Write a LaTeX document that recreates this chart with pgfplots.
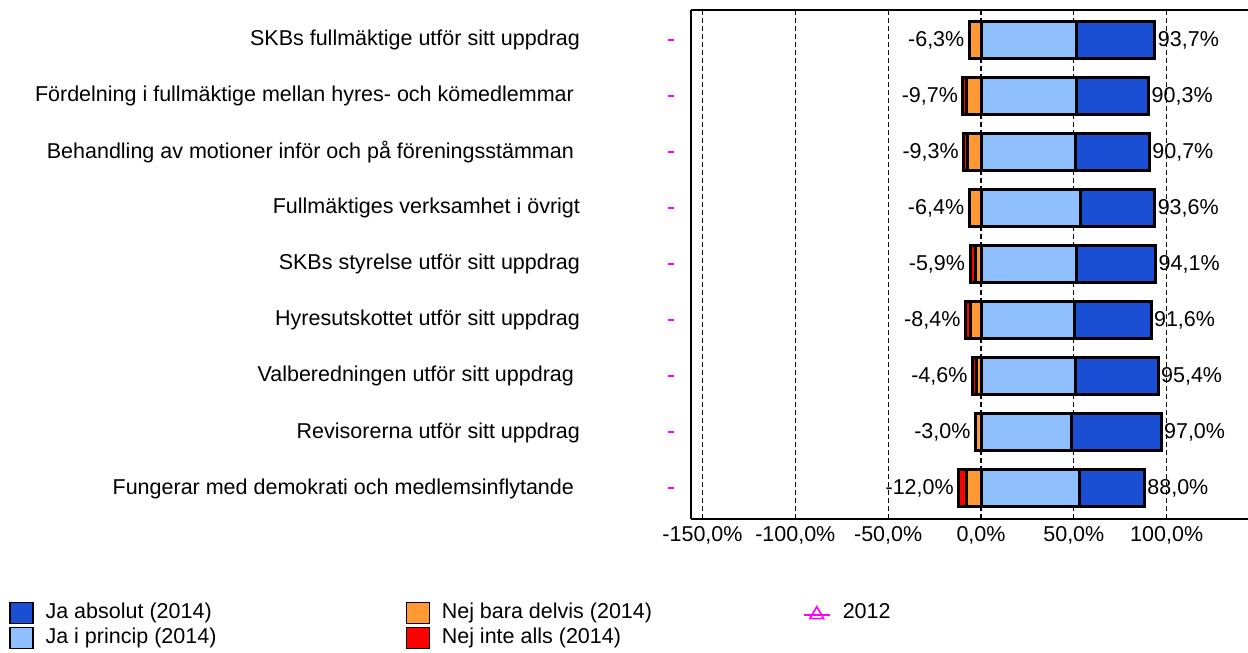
\documentclass[border=0pt]{standalone}
\usepackage{fontspec}
\setmainfont{Liberation Sans}
\usepackage{pgfplots}
\pgfplotsset{compat=1.18}
\usepackage{pgfplotstable}

\definecolor{jaabs}{HTML}{1A4FD4}
\definecolor{japrinc}{HTML}{8FBFFF}
\definecolor{nejdelvis}{HTML}{FF9933}
\definecolor{nejinte}{HTML}{FF0000}
\definecolor{mag}{HTML}{FF00FF}

\newcommand{\fs}{\fontsize{10.75pt}{12pt}\selectfont}

\pgfplotsset{
  sqlegend/.style={legend image code/.code={\draw[##1] (0pt,-5.25pt) rectangle (11.5pt,5.25pt);}},
  trilegend/.style={legend image code/.code={\draw[##1,sharp plot,draw=mag,mark repeat=2,mark phase=2] plot coordinates {(0pt,-1pt) (6.5pt,-1pt) (13pt,-1pt)};}},
}

% y: row from top; princ = Ja i princip, abs = Ja absolut,
% delvis = Nej bara delvis, inte = Nej inte alls (2014); m = 2012 marker position
\pgfplotstableread{
y princ abs  delvis inte m
1 51.7  42.0 6.3    0.0  -166.9
2 51.2  39.1 7.7    2.0  -166.9
3 51.0  39.7 7.5    1.8  -166.9
4 53.7  39.9 6.0    0.4  -166.9
5 51.6  42.5 2.9    3.0  -166.9
6 50.5  41.1 5.9    2.5  -166.9
7 50.7  44.7 2.3    2.3  -166.9
8 48.8  48.2 3.0    0.0  -166.9
9 53.1  34.9 7.8    4.2  -166.9
}\svar

\begin{document}
\begin{tikzpicture}
\begin{axis}[
  scale only axis,
  width=278.5pt, height=254.5pt,
  xmin=-156.2, xmax=143.8,
  ymin=0.46, ymax=9.545,
  y dir=reverse,
  clip=false,
  xbar, bar width=18.5pt, bar shift=0pt,
  axis x line*=box, axis y line*=left,
  axis line style={black, line width=0.7pt},
  major tick length=0pt,
  xtick={-150,-100,-50,0,50,100},
  xticklabel={\pgfmathprintnumber[fixed,fixed zerofill,precision=1,use comma,assume math mode=true]{\tick}\%},
  xticklabel style={font=\fs},
  xmajorgrids,
  grid style={black, line width=0.6pt, dash pattern=on 2.5pt off 1.5pt},
  ytick={1,...,9},
  yticklabels={
    SKBs fullmäktige utför sitt uppdrag,
    Fördelning i fullmäktige mellan hyres- och kömedlemmar\rule{3pt}{0pt},
    Behandling av motioner inför och på föreningsstämman\rule{3pt}{0pt},
    Fullmäktiges verksamhet i övrigt,
    SKBs styrelse utför sitt uppdrag,
    Hyresutskottet utför sitt uppdrag,
    Valberedningen utför sitt uppdrag\rule{3pt}{0pt},
    Revisorerna utför sitt uppdrag,
    Fungerar med demokrati och medlemsinflytande\rule{3pt}{0pt}},
  yticklabel style={font=\fs, xshift=-52pt},
  legend style={at={(0,0)}, anchor=north west, xshift=-344pt, yshift=-39pt,
    draw=none, fill=none, font=\fs, legend columns=3, row sep=1.2pt,
    nodes={inner sep=1pt}, cells={anchor=west},
    /tikz/every odd column/.append style={column sep=5pt}},
  point meta=x,
  every node near coord/.append style={font=\fs, black},
]

% positive side: full total first, Ja i princip on top of it
\addplot[forget plot, fill=jaabs, draw=black, line width=1.5pt,
  nodes near coords={\pgfmathprintnumber[fixed,fixed zerofill,precision=1,use comma,assume math mode=true]{\pgfplotspointmeta}\%},
  every node near coord/.append style={anchor=west, inner sep=1.5pt, line width=0pt}]
  table[x expr=\thisrow{princ}+\thisrow{abs}, y=y]{\svar};
\addplot[forget plot, fill=japrinc, draw=black, line width=1.5pt]
  table[x=princ, y=y]{\svar};

% negative side: full total first, Nej bara delvis on top of it
\addplot[forget plot, fill=nejinte, draw=black, line width=1.5pt,
  nodes near coords={\pgfmathprintnumber[fixed,fixed zerofill,precision=1,use comma,assume math mode=true]{\pgfplotspointmeta}\%},
  every node near coord/.append style={anchor=east, inner sep=2.5pt, line width=0pt}]
  table[x expr=-\thisrow{delvis}-\thisrow{inte}, y=y]{\svar};
\addplot[forget plot, fill=nejdelvis, draw=black, line width=1.5pt]
  table[x expr=-\thisrow{delvis}, y=y]{\svar};

% 2012: no values, shown as dashes
\addplot[forget plot, only marks, mark=-, mag, mark size=1.65pt, line width=1pt]
  table[x=m, y=y]{\svar};

\addlegendimage{sqlegend, fill=jaabs, draw=black, line width=0.6pt}
\addlegendentry{\makebox[179pt][l]{Ja absolut (2014)}}
\addlegendimage{sqlegend, fill=nejdelvis, draw=black, line width=0.6pt}
\addlegendentry{\makebox[179.5pt][l]{Nej bara delvis (2014)}}
\addlegendimage{trilegend, mag, line width=1pt, mark=triangle, mark size=4pt, mark options={draw=mag, line width=0.8pt}}
\addlegendentry{2012}
\addlegendimage{sqlegend, fill=japrinc, draw=black, line width=0.6pt}
\addlegendentry{\makebox[179pt][l]{Ja i princip (2014)}}
\addlegendimage{sqlegend, fill=nejinte, draw=black, line width=0.6pt}
\addlegendentry{\makebox[179.5pt][l]{Nej inte alls (2014)}}
\end{axis}
\pgfresetboundingbox
\path ([xshift=-345.5pt, yshift=-67pt]current axis.south west) rectangle ([yshift=5pt]current axis.north east);
\end{tikzpicture}
\end{document}
